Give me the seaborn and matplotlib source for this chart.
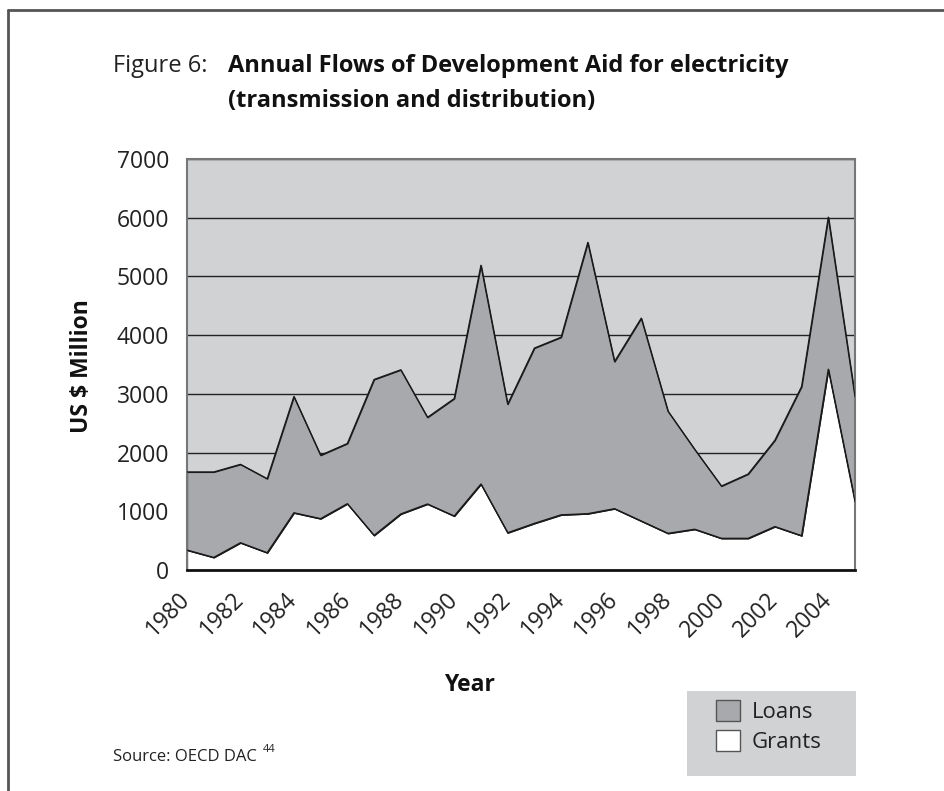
import matplotlib
matplotlib.use("Agg")
import matplotlib.pyplot as plt
import seaborn as sns
import pandas as pd
from matplotlib.lines import Line2D
from matplotlib.patches import Patch, Rectangle

# values (US $ million)
years = list(range(1980, 2006))
grants = [340, 215, 465, 295, 975, 875, 1130, 590, 955, 1125, 920, 1465, 635,
          795, 940, 960, 1045, 835, 625, 695, 540, 540, 740, 585, 3420, 1165]
loans = [1330, 1455, 1335, 1260, 1980, 1080, 1025, 2655, 2455, 1475, 2000, 3725, 2190,
         2985, 3025, 4620, 2505, 3455, 2080, 1360, 890, 1095, 1470, 2540, 2590, 1785]
label_years = [1980, 1982, 1984, 1986, 1988, 1990, 1992, 1994, 1996, 1998, 2000, 2002, 2004]
y_ticks = [0, 1000, 2000, 3000, 4000, 5000, 6000, 7000]

PLOT_BG = "#d1d2d4"
LOAN_COL = "#a8a9ac"
EDGE = "#1a1a1a"

sns.set_style("white")
plt.rcParams['font.family'] = ['Open Sans', 'DejaVu Sans']

df = pd.DataFrame({'year': years, 'grants': grants, 'loans': loans})
df['total'] = df['grants'] + df['loans']

W, H = 944, 791
fig = plt.figure(figsize=(W / 100, H / 100), dpi=100)
ax = fig.add_axes([187 / W, (H - 570) / H, 668 / W, 411 / H])
ax.set_facecolor(PLOT_BG)

# stacked areas: grants at the bottom, loans on top
ax.fill_between(df['year'], 0, df['grants'], facecolor='white', edgecolor=EDGE, linewidth=0.9, zorder=2)
ax.fill_between(df['year'], df['grants'], df['total'], facecolor=LOAN_COL, edgecolor=EDGE, linewidth=0.9, zorder=2)
sns.lineplot(data=df, x='year', y='total', color=EDGE, linewidth=0.9, ax=ax, zorder=3)
sns.lineplot(data=df, x='year', y='grants', color=EDGE, linewidth=0.9, ax=ax, zorder=3)

ax.set_xlim(1980, 2005)
ax.set_ylim(0, 7000)
ax.set_yticks(y_ticks)
ax.set_yticklabels([str(v) for v in y_ticks])
ax.set_xticks(years)
ax.set_xticklabels([str(y) if y in label_years else "" for y in years],
                   rotation=45, ha='right', va='center', rotation_mode='anchor')
ax.yaxis.grid(True, color='#222222', linewidth=1)
ax.set_axisbelow(True)
ax.set_xlabel("")
ax.set_ylabel("")

for side in ['top', 'right', 'left']:
    ax.spines[side].set_color('#777777')
    ax.spines[side].set_linewidth(1.5)
ax.spines['bottom'].set_color('#111111')
ax.spines['bottom'].set_linewidth(2)
ax.spines['bottom'].set_zorder(5)

ax.tick_params(axis='both', direction='out', length=9, width=1, color='#333333',
               labelsize=16.5, labelcolor='#222222')
ax.tick_params(axis='y', pad=4)
ax.tick_params(axis='x', pad=10)

# axis titles
fig.text(82 / W, 1 - 366 / H, "US $ Million", rotation=90, fontsize=16.5, fontweight='bold',
         ha='center', va='center', color='#111111')
fig.text(469 / W, 1 - 685 / H, "Year", fontsize=16.5, fontweight='bold',
         ha='center', va='center', color='#111111')

# title
fig.text(113 / W, 1 - 72 / H, "Figure 6:", fontsize=17, ha='left', va='baseline', color='#222222')
fig.text(228 / W, 1 - 72 / H, "Annual Flows of Development Aid for electricity", fontsize=17,
         fontweight='bold', ha='left', va='baseline', color='#111111')
fig.text(228 / W, 1 - 107 / H, "(transmission and distribution)", fontsize=17,
         fontweight='bold', ha='left', va='baseline', color='#111111')

# source
fig.text(113 / W, 1 - 761 / H, "Source: OECD DAC", fontsize=12, ha='left', va='baseline', color='#222222')
fig.text(263 / W, 1 - 752 / H, "44", fontsize=8, ha='left', va='baseline', color='#222222')

# legend in a grey box
fig.add_artist(Rectangle((687 / W, 1 - 776 / H), 169 / W, 85 / H, transform=fig.transFigure,
                         facecolor=PLOT_BG, edgecolor='none', zorder=0))
handles = [Patch(facecolor=LOAN_COL, edgecolor='#555555', linewidth=1, label='Loans'),
           Patch(facecolor='white', edgecolor='#555555', linewidth=1, label='Grants')]
fig.legend(handles=handles, loc='upper left', bbox_to_anchor=(716 / W, 1 - 700 / H),
           frameon=False, fontsize=16, borderpad=0, borderaxespad=0,
           handlelength=1.1, handleheight=1.1, handletextpad=0.5, labelspacing=0.3,
           labelcolor='#222222')

# page frame (top and left edges)
fig.add_artist(Line2D([8 / W, 1], [1 - 10 / H, 1 - 10 / H], transform=fig.transFigure,
                      color='#555555', linewidth=2))
fig.add_artist(Line2D([8 / W, 8 / W], [0, 1 - 10 / H], transform=fig.transFigure,
                      color='#555555', linewidth=2))

fig.savefig("out.png", dpi=100)
